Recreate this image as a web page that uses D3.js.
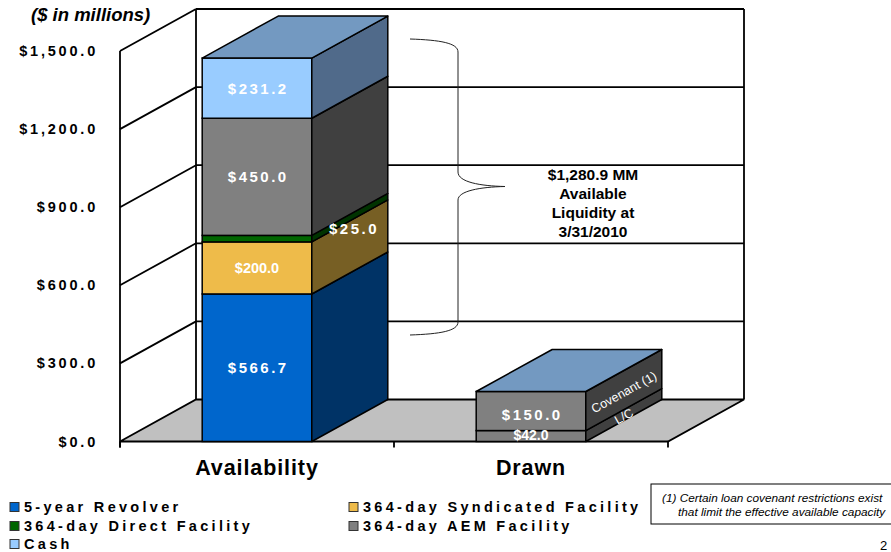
<!DOCTYPE html>
<html>
<head>
<meta charset="utf-8">
<script src="https://cdn.jsdelivr.net/npm/d3@7"></script>
<style>
  html, body { margin: 0; padding: 0; background: #fff; }
  svg { display: block; font-family: "Liberation Sans", Arial, sans-serif; }
</style>
</head>
<body>
<svg id="chart" width="891" height="552"></svg>
<script>
// ---------- DATA ----------
const categories = ["Availability", "Drawn"];
const availSeries = ["5-year Revolver", "364-day Syndicated Facility", "364-day Direct Facility", "364-day AEM Facility", "Cash"];
const availValues = [566.7, 200.0, 25.0, 450.0, 231.2];
const drawnSeries = ["L/C", "Covenant (1)"];
const drawnValues = [42.0, 150.0];
const yTicks = [0, 300, 600, 900, 1200, 1500];
const yTickLabels = ["$0.0", "$300.0", "$600.0", "$900.0", "$1,200.0", "$1,500.0"];
const unitsLabel = "($ in millions)";
const liquidityLines = ["$1,280.9 MM", "Available", "Liquidity at", "3/31/2010"];
const footnoteLines = ["(1) Certain loan covenant restrictions exist", "that limit the effective available capacity"];
const pageNumber = "2";

// ---------- STYLE ----------
const frontColors = ["#0066CC", "#EEBB4A", "#006600", "#808080", "#99CCFF"];
const sideColors  = ["#003366", "#775F24", "#003300", "#404040", "#506A8A"];
const labelSpacing = [2.5, 0, 2.5, 2.5, 2.5];
const labelSize    = [15, 14.5, 15, 15, 15];
const topColor = "#7399C1";
const drawnFront = "#808080", drawnSide = "#404040";
const DX = 76, DY = -42;

const svg = d3.select("#chart");

// ---------- SCALES ----------
const x = d3.scaleBand().domain(categories).range([120, 668]).paddingInner(0.6).paddingOuter(0.3);
const y = d3.scaleLinear().domain([0, 1500]).range([441.5, 51]);
const left = 120, right = 668;

const g = svg.append("g");

// ---------- WALLS ----------
g.append("path")
  .attr("d", `M${left},${y(0)} L${right},${y(0)} L${right + DX},${y(0) + DY} L${left + DX},${y(0) + DY} Z`)
  .attr("fill", "#C0C0C0").attr("stroke", "#000").attr("stroke-width", 1.8);

g.selectAll("line.bgrid").data(yTicks.filter(t => t > 0)).join("line")
  .attr("x1", left + DX).attr("x2", right + DX)
  .attr("y1", d => y(d) + DY).attr("y2", d => y(d) + DY)
  .attr("stroke", "#000").attr("stroke-width", 1.8);
g.selectAll("line.sgrid").data(yTicks.filter(t => t > 0)).join("line")
  .attr("x1", left).attr("x2", left + DX)
  .attr("y1", d => y(d)).attr("y2", d => y(d) + DY)
  .attr("stroke", "#000").attr("stroke-width", 1.8);
g.append("line").attr("x1", left).attr("x2", left).attr("y1", y(1500)).attr("y2", y(0) + 6)
  .attr("stroke", "#000").attr("stroke-width", 1.8);
g.append("line").attr("x1", left + DX).attr("x2", left + DX).attr("y1", y(1500) + DY).attr("y2", y(0) + DY)
  .attr("stroke", "#000").attr("stroke-width", 1.8);
g.append("line").attr("x1", right + DX).attr("x2", right + DX).attr("y1", y(1500) + DY).attr("y2", y(0) + DY)
  .attr("stroke", "#000").attr("stroke-width", 1.8);
const bandStep = x.step();
const tickXs = [left, left + bandStep, left + 2 * bandStep];
g.selectAll("line.xt").data(tickXs).join("line")
  .attr("x1", d => d).attr("x2", d => d).attr("y1", y(0)).attr("y2", y(0) + 6)
  .attr("stroke", "#000").attr("stroke-width", 1.8);

// ---------- BARS ----------
function drawSegment(x0, w, v0, v1, front, side, isTop) {
  const yT = y(v1), yB = y(v0);
  g.append("rect").attr("x", x0).attr("y", yT).attr("width", w).attr("height", yB - yT)
    .attr("fill", front).attr("stroke", "#000").attr("stroke-width", 1.5);
  g.append("path")
    .attr("d", `M${x0 + w},${yB} L${x0 + w + DX},${yB + DY} L${x0 + w + DX},${yT + DY} L${x0 + w},${yT} Z`)
    .attr("fill", side).attr("stroke", "#000").attr("stroke-width", 1.5).attr("stroke-linejoin", "round");
  if (isTop) {
    g.append("path")
      .attr("d", `M${x0},${yT} L${x0 + w},${yT} L${x0 + w + DX},${yT + DY} L${x0 + DX},${yT + DY} Z`)
      .attr("fill", topColor).attr("stroke", "#000").attr("stroke-width", 1.5).attr("stroke-linejoin", "round");
  }
}
const fmt = v => "$" + d3.format(",.1f")(v);

const ax = x("Availability"), bw = x.bandwidth();
let cum = 0;
const availStack = availValues.map(v => { const s = [cum, cum + v]; cum += v; return s; });
availStack.forEach((s, i) => drawSegment(ax, bw, s[0], s[1], frontColors[i], sideColors[i], i === availStack.length - 1));

const dx0 = x("Drawn");
cum = 0;
const drawnStack = drawnValues.map(v => { const s = [cum, cum + v]; cum += v; return s; });
drawnStack.forEach((s, i) => drawSegment(dx0, bw, s[0], s[1], drawnFront, drawnSide, i === drawnStack.length - 1));

// ---------- BAR LABELS ----------
availStack.forEach((s, i) => {
  const isSide = availSeries[i] === "364-day Direct Facility";
  let lx, ly;
  if (isSide) {
    lx = ax + bw + DX / 2 + 3;
    ly = y((s[0] + s[1]) / 2) + DY / 2 + 11;
  } else {
    lx = ax + bw / 2;
    ly = y((s[0] + s[1]) / 2);
  }
  g.append("text").attr("x", lx + labelSpacing[i] / 2).attr("y", ly + labelSize[i] * 0.36)
    .attr("text-anchor", "middle").attr("fill", "#fff").attr("font-weight", "bold")
    .attr("font-size", labelSize[i]).attr("letter-spacing", labelSpacing[i])
    .text(fmt(availValues[i]));
});
const drawnLabelSpacing = [0, 2.5];
drawnStack.forEach((s, i) => {
  g.append("text").attr("x", dx0 + bw / 2 + drawnLabelSpacing[i] / 2)
    .attr("y", i === 0 ? y(0) - 2 : y((s[0] + s[1]) / 2) + 9)
    .attr("text-anchor", "middle").attr("fill", "#fff").attr("font-weight", "bold")
    .attr("font-size", i === 0 ? 14 : 15).attr("letter-spacing", drawnLabelSpacing[i])
    .text(fmt(drawnValues[i]));
  const cx = dx0 + bw + DX / 2, cy = y((s[0] + s[1]) / 2) + DY / 2 + (i === 0 ? 1 : 2);
  const ang = Math.atan2(DY, DX) * 180 / Math.PI;
  g.append("text").attr("transform", `translate(${cx},${cy}) rotate(${ang})`)
    .attr("y", 4.5).attr("text-anchor", "middle").attr("fill", "#fff")
    .attr("font-size", 12.5).text(drawnSeries[i]);
});

// ---------- Y AXIS LABELS ----------
g.selectAll("text.ylab").data(yTicks).join("text")
  .attr("x", 98).attr("y", d => y(d) + 5)
  .attr("text-anchor", "end").attr("font-weight", "bold").attr("font-size", 14.5)
  .attr("letter-spacing", 2.8).attr("fill", "#000")
  .text((d, i) => yTickLabels[i]);

g.append("text").attr("x", 31).attr("y", 21).attr("font-weight", "bold").attr("font-style", "italic")
  .attr("font-size", 18.5).attr("fill", "#000").text(unitsLabel);

g.selectAll("text.cat").data(categories).join("text")
  .attr("x", d => x(d) + bw / 2).attr("y", 475)
  .attr("text-anchor", "middle").attr("font-weight", "bold").attr("font-size", 21.5)
  .attr("letter-spacing", 0.9).attr("fill", "#000").text(d => d);

// ---------- BRACE ----------
g.append("path")
  .attr("d", "M410,39 C440,40 458,43 458,52 L458,172 C458,182 480,186 505,186.5 C480,187 458,191 458,200 L458,322 C458,331 440,334 410,335")
  .attr("fill", "none").attr("stroke", "#222").attr("stroke-width", 1);

g.selectAll("text.liq").data(liquidityLines).join("text")
  .attr("x", 593).attr("y", (d, i) => 180 + i * 19)
  .attr("text-anchor", "middle").attr("font-weight", "bold").attr("font-size", 15.5)
  .attr("fill", "#000").text(d => d);

// ---------- LEGEND ----------
const legX = [10, 349], legTextX = [24, 363], legY = [507, 526, 544];
availSeries.forEach((name, i) => {
  const col = i % 2, row = Math.floor(i / 2);
  g.append("rect").attr("x", legX[col]).attr("y", legY[row] - 4.5).attr("width", 9).attr("height", 9)
    .attr("fill", frontColors[i]).attr("stroke", "#333").attr("stroke-width", 1);
  g.append("text").attr("x", legTextX[col]).attr("y", legY[row] + 5)
    .attr("font-weight", "bold").attr("font-size", 14.5).attr("letter-spacing", 3.3)
    .attr("fill", "#000").text(name);
});

// ---------- FOOTNOTE ----------
g.append("rect").attr("x", 651).attr("y", 484).attr("width", 260).attr("height", 40)
  .attr("fill", "#fff").attr("stroke", "#000").attr("stroke-width", 1);
g.selectAll("text.fn").data(footnoteLines).join("text")
  .attr("x", (d, i) => i === 0 ? 662 : 678).attr("y", (d, i) => 502 + i * 14)
  .attr("font-style", "italic").attr("font-size", 11.8).attr("fill", "#000").text(d => d);

g.append("text").attr("x", 880).attr("y", 550).attr("font-size", 13).attr("fill", "#000").text(pageNumber);
</script>
</body>
</html>
